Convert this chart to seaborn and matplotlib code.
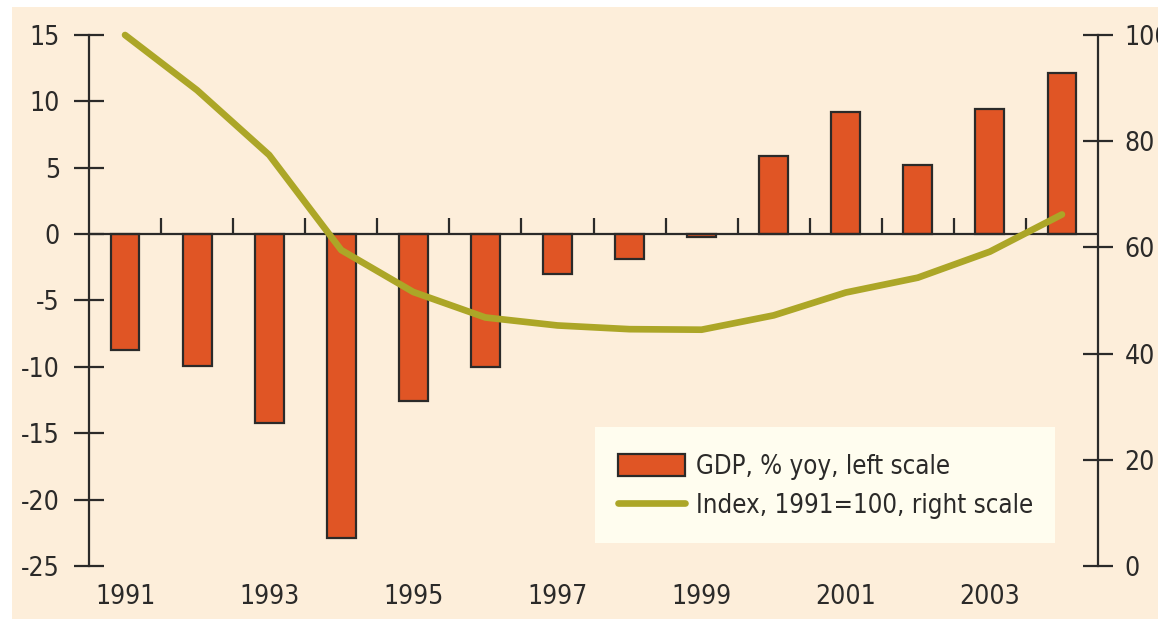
import numpy as np
import pandas as pd
import matplotlib
matplotlib.use("Agg")
import matplotlib.pyplot as plt
from matplotlib.patches import Rectangle
import seaborn as sns

# data
years = list(range(1991, 2005))
gdp = [-8.7, -9.9, -14.2, -22.9, -12.6, -10.0, -3.0, -1.9, -0.2, 5.9, 9.2, 5.2, 9.4, 12.1]
index = [100, 89.6, 77.4, 59.5, 51.6, 46.8, 45.3, 44.6, 44.5, 47.2, 51.5, 54.3, 59.2, 66.2]
year_labels = ["1991", "1993", "1995", "1997", "1999", "2001", "2003"]
left_ticks = [15, 10, 5, 0, -5, -10, -15, -20, -25]
right_ticks = [0, 20, 40, 60, 80, 100]

df = pd.DataFrame({"year": years, "gdp": gdp, "index": index})

sns.set_style("ticks")
plt.rcParams["font.family"] = ["DejaVu Sans"]
plt.rcParams["font.stretch"] = "condensed"
plt.rcParams["axes.unicode_minus"] = False

ink = "#2b2a29"
bar_col = "#e05525"
line_col = "#aca627"
cream = "#fdeeda"

fig = plt.figure(figsize=(11.58, 6.19), dpi=100)
fig.patch.set_facecolor("white")
fig.add_artist(Rectangle((12 / 1158, 0), 1, 1 - 7 / 619, transform=fig.transFigure,
                         facecolor=cream, edgecolor="none", zorder=-10))

ax = fig.add_axes([89 / 1158, 1 - 566 / 619, 1009 / 1158, 531 / 619])
ax.patch.set_visible(False)

sns.barplot(data=df, x="year", y="gdp", ax=ax, color=bar_col, width=0.4,
            edgecolor=ink, linewidth=1.6, saturation=1, zorder=2)
ax.set_xlim(-0.5, len(years) - 0.5)
ax.set_ylim(-25, 15)
ax.axhline(0, color=ink, lw=1.6, zorder=3)
# small upward ticks between years on the zero line
ax.vlines(np.arange(0.5, len(years) - 1), 0, 1.2, color=ink, lw=1.6, zorder=3)

ax.set_yticks(left_ticks)
ax.set_xticks(range(0, len(years), 2), year_labels)
ax.tick_params(axis="y", direction="inout", length=22, width=1.6, color=ink,
               labelsize=19, labelcolor=ink, pad=10)
ax.tick_params(axis="x", length=0, labelsize=19, labelcolor=ink, pad=13)
ax.set_xlabel("")
ax.set_ylabel("")
for s in ["top", "right", "bottom"]:
    ax.spines[s].set_visible(False)
ax.spines["left"].set_color(ink)
ax.spines["left"].set_linewidth(1.6)

ax2 = ax.twinx()
ax2.patch.set_visible(False)
sns.lineplot(x=np.arange(len(years)), y=df["index"], ax=ax2, color=line_col,
             lw=4.8, solid_joinstyle="round", solid_capstyle="round", clip_on=False)
ax2.set_ylim(0, 100)
ax2.set_yticks(right_ticks)
ax2.tick_params(axis="y", direction="inout", length=22, width=1.6, color=ink,
                labelsize=19, labelcolor=ink, pad=8)
ax2.set_ylabel("")
for s in ["top", "left", "bottom"]:
    ax2.spines[s].set_visible(False)
ax2.spines["right"].set_color(ink)
ax2.spines["right"].set_linewidth(1.6)

# legend panel
ax2.add_patch(Rectangle(((595 - 89) / 1009, (566 - 543) / 531), 460 / 1009, 116 / 531,
                        transform=ax2.transAxes, facecolor="#fffdef", edgecolor="none", zorder=5))
bar_handle = Rectangle((0, 0), 1, 1, facecolor=bar_col, edgecolor=ink, linewidth=1.6)
line_handle = plt.Line2D([0], [0], color=line_col, lw=4.8)
leg = ax2.legend([bar_handle, line_handle],
                 ["GDP, % yoy, left scale", "Index, 1991=100, right scale"],
                 loc="upper left", bbox_to_anchor=((618 - 89) / 1009, (566 - 454) / 531),
                 frameon=False, fontsize=18.5, handlelength=2.6, handleheight=0.95,
                 handletextpad=0.45, labelspacing=0.5, borderpad=0, borderaxespad=0)
leg.set_zorder(6)
for t in leg.get_texts():
    t.set_color(ink)

fig.savefig("out.png", dpi=100)
